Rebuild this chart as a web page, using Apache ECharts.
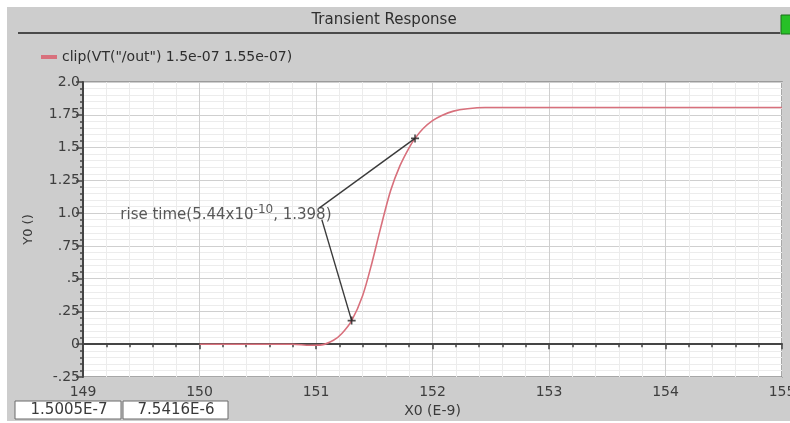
<!DOCTYPE html>
<html>
<head>
<meta charset="utf-8">
<title>Transient Response</title>
<script src="https://cdn.jsdelivr.net/npm/echarts@6/dist/echarts.min.js"></script>
<style>
  html, body { margin: 0; padding: 0; background: #ffffff; }
  #chart { width: 790px; height: 423px; }
</style>
</head>
<body>
<div id="chart"></div>
<script>
// Output voltage of /out, clipped to the 150 ns .. 155 ns window
const timeNs = [150.0, 150.5, 150.8, 150.95, 151.05, 151.15, 151.22, 151.306, 151.4, 151.48, 151.55, 151.64, 151.72, 151.8, 151.85, 151.92, 152.0, 152.08, 152.18, 152.3, 152.45, 153.0, 154.0, 155.0];
const voltage = [0, 0, 0, -0.008, -0.005, 0.03, 0.08, 0.18, 0.37, 0.62, 0.87, 1.17, 1.36, 1.50, 1.57, 1.645, 1.705, 1.745, 1.778, 1.796, 1.805, 1.805, 1.805, 1.805];

// Rise-time measurement: 10 % and 90 % crossing points
const markerTime = [151.306, 151.85];
const markerLevel = [0.18, 1.57];
const riseTimeLabel = ['rise time(5.44x10', '-10', ', 1.398)'];
// Where the two leader lines meet the label
const leaderStartUpper = [151.03, 1.04];
const leaderStartLower = [151.05, 0.95];

// Axis tick labels
const xTickLabels = ['149', '150', '151', '152', '153', '154', '155'];
const yTickLabels = ['-.25', '0', '.25', '.5', '.75', '1.0', '1.25', '1.5', '1.75', '2.0'];

const seriesName = 'clip(VT("/out") 1.5e-07 1.55e-07)';
const readouts = ['1.5005E-7', '7.5416E-6'];

const FONT = 'DejaVu Sans';
const curve = timeNs.map((t, i) => [t, voltage[i]]);
const markers = markerTime.map((t, i) => [t, markerLevel[i]]);

const chart = echarts.init(document.getElementById('chart'), null, { renderer: 'canvas' });

const plusPath = 'path://M-5,0 L5,0 M0,-5 L0,5';

chart.setOption({
  backgroundColor: '#ffffff',
  animation: false,
  textStyle: { fontFamily: FONT },
  graphic: [
    // window panel
    { type: 'rect', z: -10, shape: { x: 7, y: 7, width: 783, height: 414 }, style: { fill: '#cdcdcd' } },
    // title bar rule
    { type: 'rect', z: -9, shape: { x: 18, y: 32, width: 762, height: 2 }, style: { fill: '#4a4a4a' } },
    { type: 'text', z: 5, x: 384, y: 20, style: { text: 'Transient Response', fontFamily: FONT, fontSize: 15, fill: '#2e2e2e', align: 'center', verticalAlign: 'middle' } },
    // status indicator at the right end of the title bar
    { type: 'rect', z: 5, shape: { x: 781, y: 15, width: 12, height: 19 }, style: { fill: '#27c027', stroke: '#1b6e1b', lineWidth: 1 } },
    // numeric readouts under the plot
    { type: 'rect', z: 5, shape: { x: 15, y: 401, width: 106, height: 18 }, style: { fill: '#ffffff', stroke: '#6a6a6a', lineWidth: 1 } },
    { type: 'text', z: 6, x: 69, y: 410, style: { text: readouts[0], fontFamily: FONT, fontSize: 15, fill: '#3a3a3a', align: 'center', verticalAlign: 'middle' } },
    { type: 'rect', z: 5, shape: { x: 123, y: 401, width: 105, height: 18 }, style: { fill: '#ffffff', stroke: '#6a6a6a', lineWidth: 1 } },
    { type: 'text', z: 6, x: 176, y: 410, style: { text: readouts[1], fontFamily: FONT, fontSize: 15, fill: '#3a3a3a', align: 'center', verticalAlign: 'middle' } }
  ],
  legend: {
    left: 36, top: 45,
    itemWidth: 16, itemHeight: 4, itemGap: 6,
    icon: 'rect',
    data: [seriesName],
    textStyle: { fontFamily: FONT, fontSize: 14, color: '#2e2e2e' }
  },
  grid: {
    left: 83, right: 8, top: 82, bottom: 46,
    show: true, backgroundColor: '#ffffff', borderColor: '#8a8a8a', borderWidth: 1.5,
    containLabel: false,
    outerBoundsMode: 'none'
  },
  xAxis: {
    type: 'value', min: 149, max: 155, interval: 1,
    name: 'X0 (E-9)', nameLocation: 'middle', nameGap: 21,
    nameTextStyle: { fontFamily: FONT, fontSize: 14, color: '#3a3a3a' },
    axisLine: { show: true, lineStyle: { color: '#454545', width: 2 } },
    axisTick: { show: true, length: 5, lineStyle: { color: '#454545', width: 1.5 } },
    minorTick: { show: true, splitNumber: 5, length: 3, lineStyle: { color: '#454545', width: 1.5 } },
    axisLabel: {
      fontFamily: FONT, fontSize: 14, color: '#3e3e3e', margin: 8,
      hideOverlap: false,
      formatter: v => xTickLabels[Math.round(v - 149)] ?? ''
    },
    splitLine: { show: true, lineStyle: { color: '#cfcfcf', width: 1 } },
    minorSplitLine: { show: true, lineStyle: { color: '#ececec', width: 1 } }
  },
  yAxis: {
    type: 'value', min: -0.25, max: 2.0, interval: 0.25,
    name: 'Y0 ()', nameLocation: 'middle', nameGap: 48, nameRotate: 90,
    nameTextStyle: { fontFamily: FONT, fontSize: 13, color: '#3a3a3a' },
    axisLine: { show: true, lineStyle: { color: '#454545', width: 2 } },
    axisTick: { show: true, length: 7, lineStyle: { color: '#454545', width: 1.5 } },
    minorTick: { show: true, splitNumber: 5, length: 3, lineStyle: { color: '#454545', width: 1.5 } },
    axisLabel: {
      fontFamily: FONT, fontSize: 14, color: '#3e3e3e', margin: 3,
      formatter: v => yTickLabels[Math.round((v + 0.25) / 0.25)] ?? ''
    },
    splitLine: { show: true, lineStyle: { color: '#cfcfcf', width: 1 } },
    minorSplitLine: { show: true, lineStyle: { color: '#ececec', width: 1 } }
  },
  series: [
    {
      name: seriesName,
      type: 'line',
      data: curve,
      smooth: 0.3,
      showSymbol: false,
      color: '#d8707c',
      lineStyle: { color: '#d8707c', width: 1.6 },
      z: 3
    },
    {
      type: 'line',
      data: [leaderStartUpper, markers[1]],
      showSymbol: false,
      lineStyle: { color: '#3a3a3a', width: 1.4 },
      silent: true, z: 4
    },
    {
      type: 'line',
      data: [leaderStartLower, markers[0]],
      showSymbol: false,
      lineStyle: { color: '#3a3a3a', width: 1.4 },
      silent: true, z: 4
    },
    {
      type: 'scatter',
      data: markers,
      symbol: plusPath,
      symbolSize: 8,
      itemStyle: { color: 'none', borderColor: '#222222', borderWidth: 1.6 },
      z: 5
    },
    {
      type: 'scatter',
      data: [leaderStartUpper],
      symbolSize: 0,
      silent: true,
      z: 6,
      label: {
        show: true,
        position: 'inside',
        align: 'right',
        verticalAlign: 'middle',
        offset: [12, 7],
        formatter: '{a|' + riseTimeLabel[0] + '}{b|' + riseTimeLabel[1] + '}{a|' + riseTimeLabel[2] + '}',
        rich: {
          a: { fontFamily: FONT, fontSize: 15, color: '#2e2e2e' },
          b: { fontFamily: FONT, fontSize: 12, color: '#2e2e2e', padding: [0, 0, 10, 0] }
        }
      }
    }
  ]
});
</script>
</body>
</html>
